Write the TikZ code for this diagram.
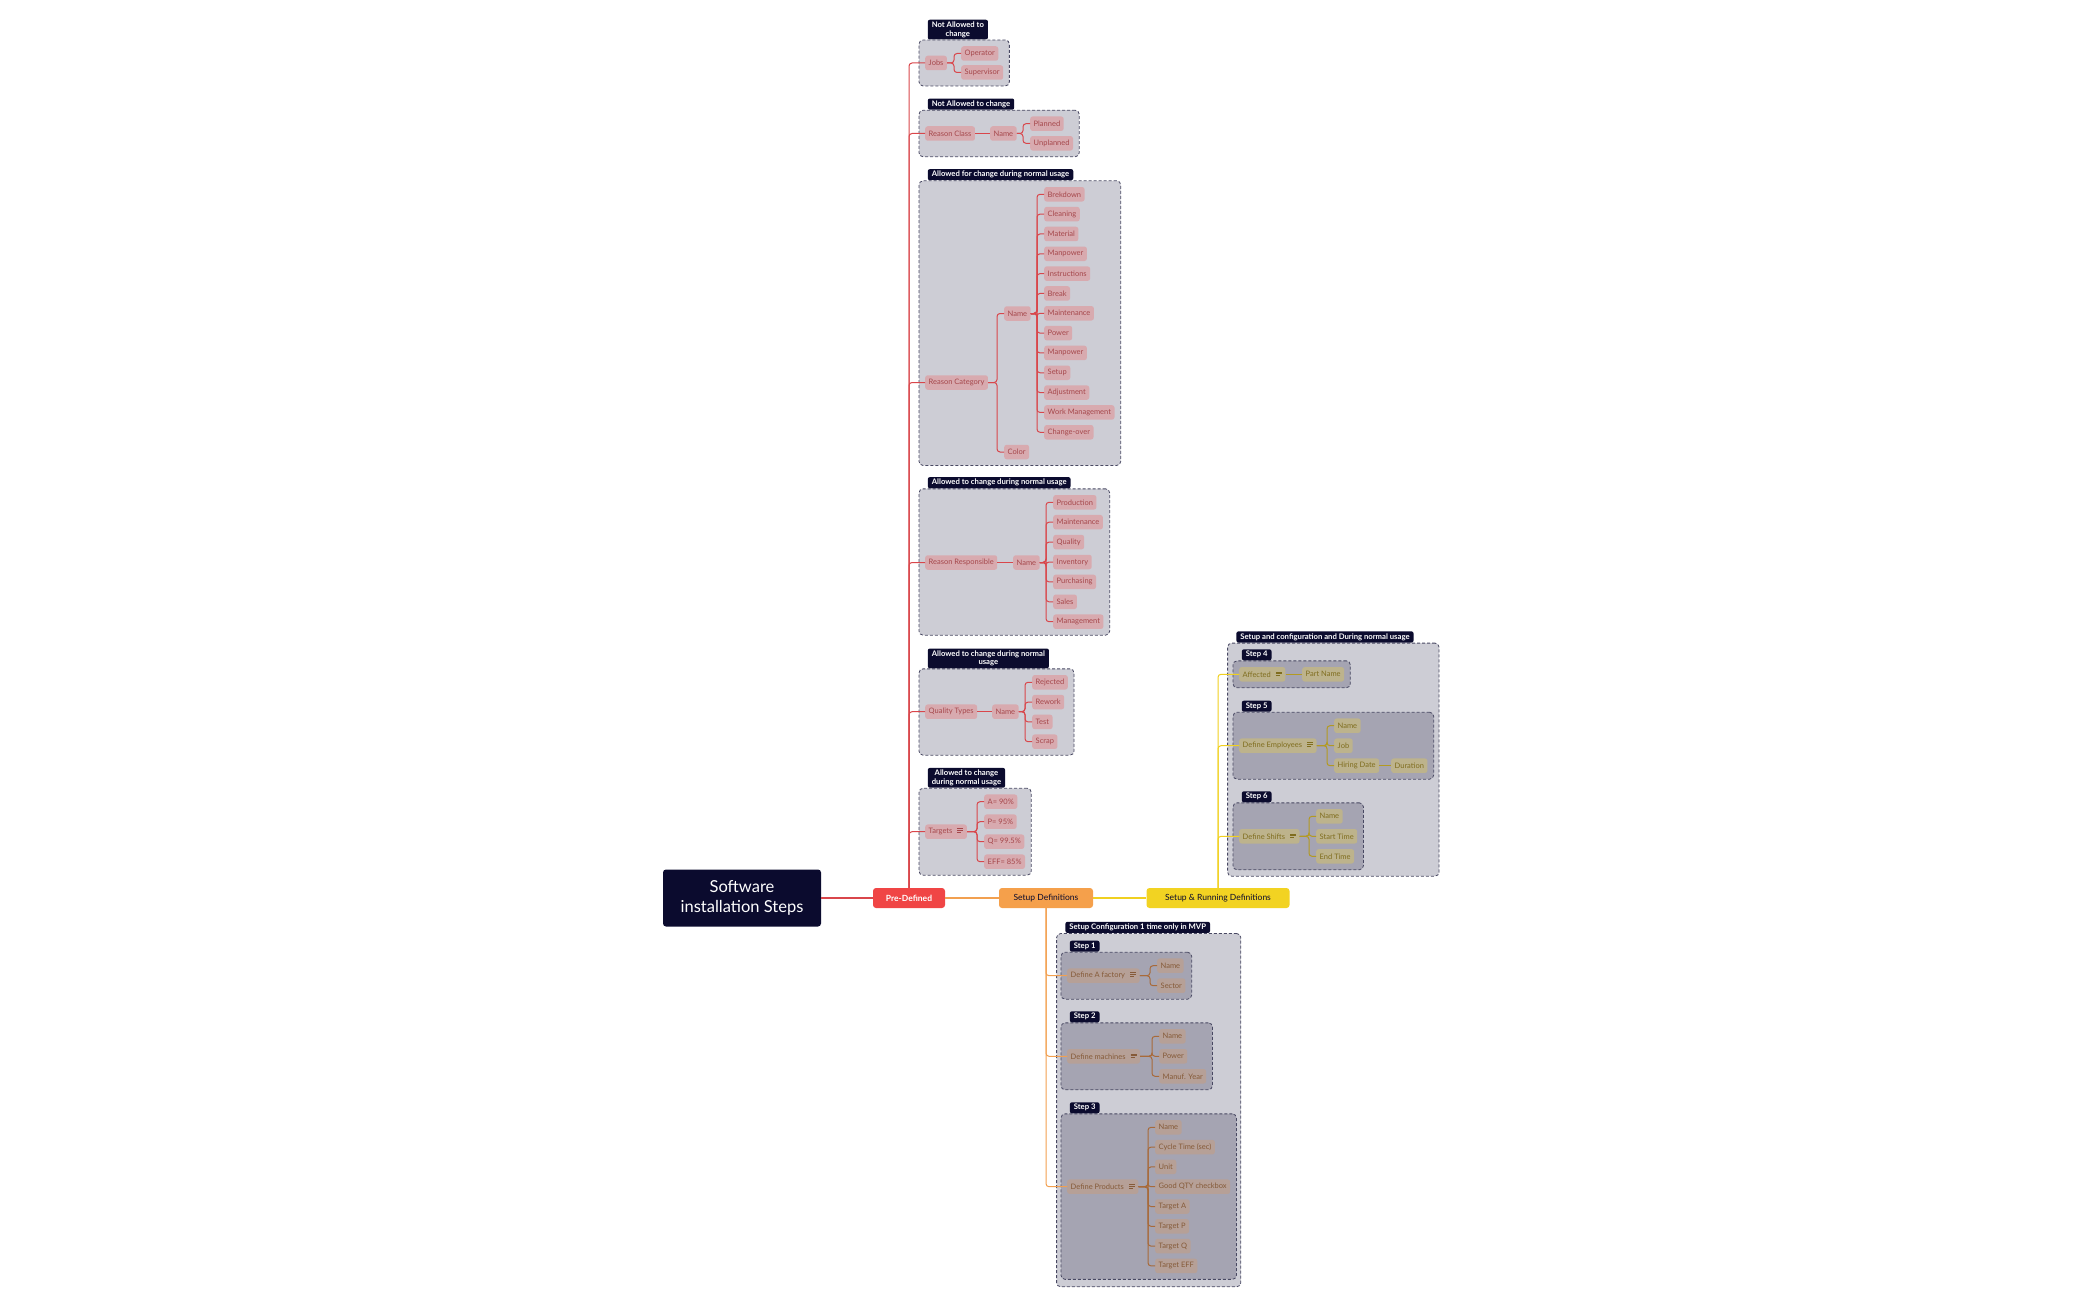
\documentclass[tikz,border=0pt]{standalone}
\usepackage{fontspec}
\setmainfont{Lato}
\usepackage{tikz}
\usetikzlibrary{positioning}
\usetikzlibrary{fit}
\definecolor{navyColor}{HTML}{0B0B2E}
\definecolor{predefColor}{HTML}{F04545}
\definecolor{setupColor}{HTML}{F5A04B}
\definecolor{runningColor}{HTML}{F2D322}
\definecolor{groupColor}{HTML}{CDCDD5}
\definecolor{stepColor}{HTML}{A5A4B2}
\definecolor{redLeafColor}{HTML}{D8AAAF}
\definecolor{redTextColor}{HTML}{A5474B}
\definecolor{redLineColor}{HTML}{D9464B}
\definecolor{orangeLeafColor}{HTML}{B6A097}
\definecolor{orangeTextColor}{HTML}{855A38}
\definecolor{orangeLineColor}{HTML}{F2A050}
\definecolor{brownLineColor}{HTML}{A86A3A}
\definecolor{yellowLeafColor}{HTML}{BDB38C}
\definecolor{yellowTextColor}{HTML}{7F6D1E}
\definecolor{yellowLineColor}{HTML}{F0D020}
\definecolor{goldLineColor}{HTML}{B39A22}
\pgfdeclarelayer{groups}
\pgfdeclarelayer{steps}
\pgfsetlayers{groups,steps,main}
\newcommand{\noteicon}{\hspace{5pt}\raisebox{0.3ex}{\vbox{\hrule width 6pt height 0.6pt\vskip1.3pt\hrule width 6pt height 0.6pt\vskip1.3pt\hrule width 4pt height 0.6pt}}}

\begin{document}
\begin{tikzpicture}[x=1pt, y=-1pt,
    leaf/.style={rounded corners=2.5pt, minimum height=14.5pt, inner xsep=3.5pt, inner ysep=0pt, anchor=west, font=\fontsize{7.5}{8.5}\selectfont},
    redleaf/.style={leaf, fill=redLeafColor, text=redTextColor},
    orangeleaf/.style={leaf, fill=orangeLeafColor, text=orangeTextColor},
    yellowleaf/.style={leaf, fill=yellowLeafColor, text=yellowTextColor},
    redline/.style={draw=redLineColor, line width=1pt, rounded corners=3pt},
    orangeline/.style={draw=orangeLineColor, line width=1pt, rounded corners=3pt},
    brownline/.style={draw=brownLineColor, line width=1pt, rounded corners=3pt},
    yellowline/.style={draw=yellowLineColor, line width=1pt, rounded corners=3pt},
    goldline/.style={draw=goldLineColor, line width=1pt, rounded corners=3pt},
    group/.style={draw=navyColor!75, dash pattern=on 3pt off 2pt, line width=0.8pt, rounded corners=4pt, fill=groupColor, inner sep=6pt},
    stepgroup/.style={group, fill=stepColor},
    tab/.style={fill=navyColor, text=white, font=\fontsize{7.7}{8.6}\selectfont\bfseries, rounded corners=2pt, inner xsep=4pt, inner ysep=2pt, anchor=south west, align=center},
    branch/.style={rounded corners=3pt, minimum height=20pt, inner sep=0pt, font=\fontsize{8.5}{10}\selectfont},
  ]
  \useasboundingbox (0,0) rectangle (2100,1300);

  % main branches
  \node[fill=navyColor, text=white, rounded corners=3pt, minimum width=158pt, minimum height=57pt, align=center, font=\fontsize{16.5}{19.5}\selectfont] (root) at (742,898) {Software\\installation Steps};
  \node[branch, fill=predefColor, text=white, minimum width=72pt, font=\fontsize{8.5}{10}\selectfont\bfseries] (predef) at (909,898) {Pre-Defined};
  \node[branch, fill=setupColor, text=navyColor, minimum width=94pt] (setupdef) at (1046,898) {Setup Definitions};
  \node[branch, fill=runningColor, text=navyColor, minimum width=143pt] (running) at (1218,898) {Setup \& Running Definitions};
  \draw[redLineColor, line width=1.6pt] (root) -- (predef);
  \draw[orangeLineColor, line width=1.6pt] (predef) -- (setupdef);
  \draw[yellowLineColor, line width=1.6pt] (setupdef) -- (running);

  % Pre-Defined: jobs
  \node[redleaf] (jobs) at (925,63) {Jobs};
  \foreach \txt [count=\i] in {Operator, Supervisor} {
    \node[redleaf] (job\i) at (961,{53.5+19*(\i-1)}) {\txt};
    \draw[redline] (jobs.east) -| ([xshift=-7]job\i.west) -- (job\i.west);
  }

  % Pre-Defined: reason class
  \node[redleaf] (rclass) at (925,133.5) {Reason Class};
  \node[redleaf] (classname) at (990,133.5) {Name};
  \draw[redline] (rclass) -- (classname);
  \foreach \txt [count=\i] in {Planned, Unplanned} {
    \node[redleaf] (class\i) at (1030,{123.7+19.6*(\i-1)}) {\txt};
    \draw[redline] (classname.east) -| ([xshift=-7]class\i.west) -- (class\i.west);
  }

  % Pre-Defined: reason category
  \node[redleaf] (rcat) at (925,382.5) {Reason Category};
  \node[redleaf] (catname) at (1004,313.5) {Name};
  \node[redleaf] (catcolor) at (1004,452) {Color};
  \draw[redline] (rcat.east) -| ([xshift=-7]catname.west) -- (catname.west);
  \draw[redline] (rcat.east) -| ([xshift=-7]catcolor.west) -- (catcolor.west);
  \foreach \txt [count=\i] in {Brekdown, Cleaning, Material, Manpower, Instructions, Break, Maintenance, Power, Manpower, Setup, Adjustment, Work Management, Change-over} {
    \node[redleaf] (cat\i) at (1044,{194.3+19.83*(\i-1)}) {\txt};
    \draw[redline] (catname.east) -| ([xshift=-7]cat\i.west) -- (cat\i.west);
  }

  % Pre-Defined: reason responsible
  \node[redleaf] (rresp) at (925,562.5) {Reason Responsible};
  \node[redleaf] (respname) at (1013,562.5) {Name};
  \draw[redline] (rresp) -- (respname);
  \foreach \txt [count=\i] in {Production, Maintenance, Quality, Inventory, Purchasing, Sales, Management} {
    \node[redleaf] (resp\i) at (1053,{502.3+19.9*(\i-1)}) {\txt};
    \draw[redline] (respname.east) -| ([xshift=-7]resp\i.west) -- (resp\i.west);
  }

  % Pre-Defined: quality types
  \node[redleaf] (qtypes) at (925,711.7) {Quality Types};
  \node[redleaf] (qname) at (992,711.7) {Name};
  \draw[redline] (qtypes) -- (qname);
  \foreach \txt [count=\i] in {Rejected, Rework, Test, Scrap} {
    \node[redleaf] (qual\i) at (1032,{682.3+19.8*(\i-1)}) {\txt};
    \draw[redline] (qname.east) -| ([xshift=-7]qual\i.west) -- (qual\i.west);
  }

  % Pre-Defined: targets
  \node[redleaf] (targets) at (925,831.7) {Targets\noteicon};
  \foreach \txt [count=\i] in {A= 90\%, P= 95\%, Q= 99.5\%, EFF= 85\%} {
    \node[redleaf] (target\i) at (984,{801.7+20*(\i-1)}) {\txt};
    \draw[redline] (targets.east) -| ([xshift=-7]target\i.west) -- (target\i.west);
  }

  \foreach \n in {jobs, rclass, rcat, rresp, qtypes, targets}
    \draw[redline] (predef.north) |- (\n.west);

  \begin{pgfonlayer}{groups}
    \node[group, fit=(jobs)(job1)(job2)] (jobsgroup) {};
    \node[group, fit=(rclass)(class1)(class2)] (classgroup) {};
    \node[group, fit=(rcat)(cat1)(cat12)(catcolor)] (catgroup) {};
    \node[group, fit=(rresp)(resp1)(resp2)(resp7)] (respgroup) {};
    \node[group, fit=(qtypes)(qual1)(qual4)] (qualgroup) {};
    \node[group, fit=(targets)(target1)(target3)(target4)] (targetgroup) {};
  \end{pgfonlayer}
  \node[tab] (jobstab) at ([xshift=9]jobsgroup.north west) {Not Allowed to\\change};
  \node[tab] (classtab) at ([xshift=9]classgroup.north west) {Not Allowed to change};
  \node[tab] (cattab) at ([xshift=9]catgroup.north west) {Allowed for change during normal usage};
  \node[tab] (resptab) at ([xshift=9]respgroup.north west) {Allowed to change during normal usage};
  \node[tab] (qualtab) at ([xshift=9]qualgroup.north west) {Allowed to change during normal\\usage};
  \node[tab] (targettab) at ([xshift=9]targetgroup.north west) {Allowed to change\\during normal usage};

  % Setup Definitions
  \node[orangeleaf] (factory) at (1067,975.7) {Define A factory\noteicon};
  \foreach \txt [count=\i] in {Name, Sector} {
    \node[orangeleaf] (fac\i) at (1157,{965.7+20*(\i-1)}) {\txt};
    \draw[brownline] (factory.east) -| ([xshift=-7]fac\i.west) -- (fac\i.west);
  }
  \node[orangeleaf] (machines) at (1067,1056.3) {Define machines\noteicon};
  \foreach \txt [count=\i] in {Name, Power, Manuf. Year} {
    \node[orangeleaf] (mach\i) at (1159,{1036.3+20*(\i-1)}) {\txt};
    \draw[brownline] (machines.east) -| ([xshift=-7]mach\i.west) -- (mach\i.west);
  }
  \node[orangeleaf] (products) at (1067,1186.7) {Define Products\noteicon};
  \foreach \txt [count=\i] in {Name, Cycle Time (sec), Unit, Good QTY checkbox, Target A, Target P, Target Q, Target EFF} {
    \node[orangeleaf] (prod\i) at (1155,{1127.3+19.8*(\i-1)}) {\txt};
    \draw[brownline] (products.east) -| ([xshift=-7]prod\i.west) -- (prod\i.west);
  }
  \foreach \n in {factory, machines, products}
    \draw[orangeline] (setupdef.south) |- (\n.west);

  \begin{pgfonlayer}{steps}
    \node[stepgroup, fit=(factory)(fac1)(fac2)] (step1) {};
    \node[stepgroup, fit=(machines)(mach1)(mach3)] (step2) {};
    \node[stepgroup, fit=(products)(prod1)(prod4)(prod8)] (step3) {};
  \end{pgfonlayer}
  \node[tab] (step1tab) at ([xshift=9]step1.north west) {Step 1};
  \node[tab] (step2tab) at ([xshift=9]step2.north west) {Step 2};
  \node[tab] (step3tab) at ([xshift=9]step3.north west) {Step 3};
  \begin{pgfonlayer}{groups}
    \node[group, inner xsep=4pt, inner ysep=7pt, fit=(step1tab)(step1)(step2)(step3)] (setupgroup) {};
  \end{pgfonlayer}
  \node[tab] (setuptab) at ([xshift=9]setupgroup.north west) {Setup Configuration 1 time only in MVP};

  % Setup & Running Definitions
  \node[yellowleaf] (affected) at (1239,674.3) {Affected\noteicon};
  \node[yellowleaf] (partname) at (1302,674.3) {Part Name};
  \draw[goldline] (affected) -- (partname);
  \node[yellowleaf] (employees) at (1239,745.7) {Define Employees\noteicon};
  \foreach \txt [count=\i] in {Name, Job, Hiring Date} {
    \node[yellowleaf] (emp\i) at (1334,{725.7+20*(\i-1)}) {\txt};
    \draw[goldline] (employees.east) -| ([xshift=-7]emp\i.west) -- (emp\i.west);
  }
  \node[yellowleaf] (duration) at (1391,765.7) {Duration};
  \draw[goldline] (emp3) -- (duration);
  \node[yellowleaf] (shifts) at (1239,836.3) {Define Shifts\noteicon};
  \foreach \txt [count=\i] in {Name, Start Time, End Time} {
    \node[yellowleaf] (shift\i) at (1316,{816.3+20*(\i-1)}) {\txt};
    \draw[goldline] (shifts.east) -| ([xshift=-7]shift\i.west) -- (shift\i.west);
  }
  \foreach \n in {affected, employees, shifts}
    \draw[yellowline] (running.north) |- (\n.west);

  \begin{pgfonlayer}{steps}
    \node[stepgroup, fit=(affected)(partname)] (step4) {};
    \node[stepgroup, fit=(employees)(emp1)(emp3)(duration)] (step5) {};
    \node[stepgroup, fit=(shifts)(shift1)(shift2)(shift3)] (step6) {};
  \end{pgfonlayer}
  \node[tab] (step4tab) at ([xshift=9]step4.north west) {Step 4};
  \node[tab] (step5tab) at ([xshift=9]step5.north west) {Step 5};
  \node[tab] (step6tab) at ([xshift=9]step6.north west) {Step 6};
  \begin{pgfonlayer}{groups}
    \node[group, inner xsep=5pt, inner ysep=6pt, fit=(step4tab)(step4)(step5)(step6)] (runninggroup) {};
  \end{pgfonlayer}
  \node[tab] (runningtab) at ([xshift=9]runninggroup.north west) {Setup and configuration and During normal usage};
\end{tikzpicture}
\end{document}
